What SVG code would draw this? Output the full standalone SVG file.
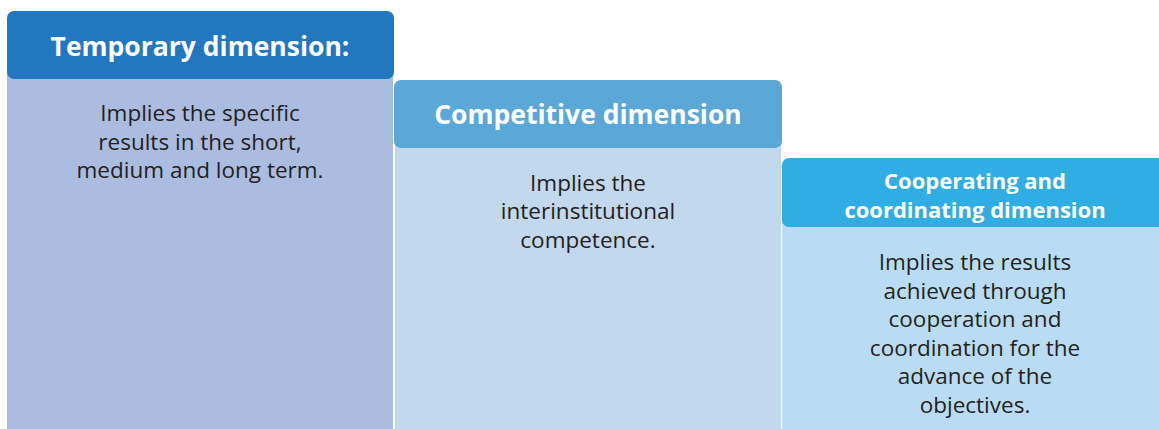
<svg xmlns="http://www.w3.org/2000/svg" width="1159" height="429" viewBox="0 0 1159 429">
<style>
.hd{font-family:"Open Sans","Liberation Sans",sans-serif;font-weight:bold;fill:#ffffff;text-anchor:middle}
.bd{font-family:"Open Sans","Liberation Sans",sans-serif;font-size:22.5px;fill:#231f20;text-anchor:middle}
</style>
<rect width="1159" height="429" fill="#ffffff"/>
<g id="temporary">
<rect x="7" y="60" width="386" height="369" fill="#aabde1"/>
<rect x="7" y="11" width="387" height="68" rx="7" fill="#2177c0"/>
<text class="hd" x="200" y="56" font-size="26.5">Temporary dimension:</text>
<text class="bd" x="200" y="121">Implies the specific</text>
<text class="bd" x="200" y="150">results in the short,</text>
<text class="bd" x="200" y="178">medium and long term.</text>
</g>
<g id="competitive">
<rect x="395" y="130" width="386" height="299" fill="#c1d8ed"/>
<rect x="394" y="80" width="388" height="68" rx="7" fill="#5aa8d8"/>
<text class="hd" x="588" y="124" font-size="26.5">Competitive dimension</text>
<text class="bd" x="588" y="191">Implies the</text>
<text class="bd" x="588" y="219">interinstitutional</text>
<text class="bd" x="588" y="248">competence.</text>
</g>
<g id="cooperating">
<rect x="782" y="210" width="377" height="219" fill="#b9dcf4"/>
<rect x="782" y="158" width="390" height="69" rx="7" fill="#30aee3"/>
<text class="hd" x="975" y="189" font-size="22">Cooperating and</text>
<text class="hd" x="975" y="218" font-size="22">coordinating dimension</text>
<text class="bd" x="975" y="270">Implies the results</text>
<text class="bd" x="975" y="299">achieved through</text>
<text class="bd" x="975" y="327">cooperation and</text>
<text class="bd" x="975" y="356">coordination for the</text>
<text class="bd" x="975" y="384">advance of the</text>
<text class="bd" x="975" y="413">objectives.</text>
</g>
<g id="connectors"/>
</svg>
